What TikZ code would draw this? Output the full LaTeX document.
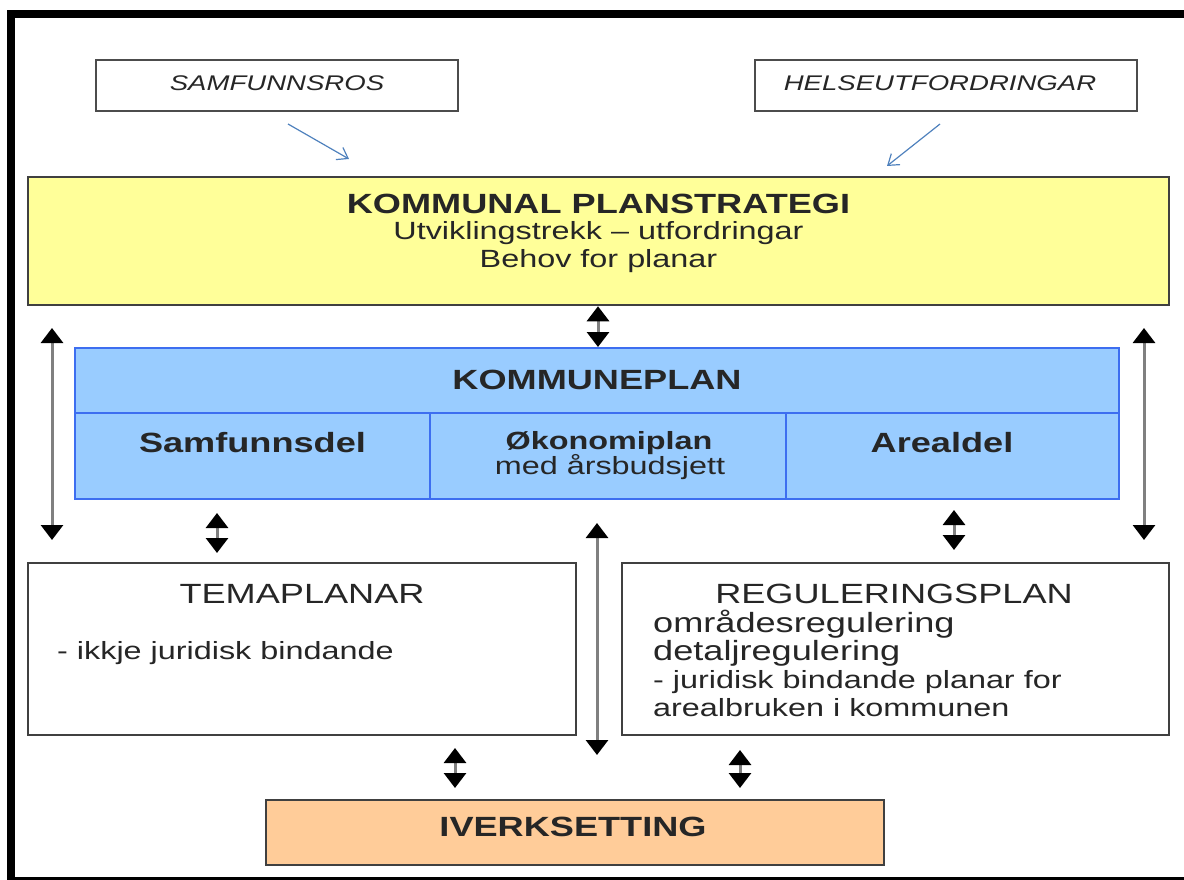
\documentclass[tikz,border=0pt]{standalone}
\usepackage{fontspec}
\setmainfont{Liberation Sans}[FakeStretch=1.3]
\usetikzlibrary{arrows.meta}

\definecolor{planyellow}{HTML}{FFFF99}
\definecolor{planblue}{HTML}{99CCFF}
\definecolor{planblueline}{HTML}{3D6EF0}
\definecolor{planorange}{HTML}{FFCC99}
\definecolor{hintblue}{HTML}{4F81BD}

\newcommand{\bigtxt}{\fontsize{27.8}{32}\selectfont}
\newcommand{\smalltxt}{\fontsize{24.9}{29}\selectfont}
\newcommand{\toptxt}{\fontsize{21.2}{25}\selectfont\itshape}

\begin{document}
\begin{tikzpicture}[x=1pt,y=-1pt,
  box/.style={draw=black!75,line width=2.5pt,inner sep=0pt},
  topbox/.style={draw=black!70,line width=2pt,inner sep=0pt},
  cell/.style={draw=planblueline,line width=2pt,fill=planblue,inner sep=0pt},
  twoway/.style={draw=gray,line width=3pt,{Triangle[length=15pt,width=22pt,color=black]}-{Triangle[length=15pt,width=22pt,color=black]}},
  hint/.style={draw=hintblue,line width=1.2pt,-{Straight Barb[length=10pt,width=14pt]}},
  txt/.style={anchor=base,inner sep=0pt,text=black!85}]

\useasboundingbox (0,0) rectangle (1184,880);
\fill (7,10) rectangle (1184,18);
\fill (7,10) rectangle (15,880);
\fill (7,877) rectangle (1184,880);

\node[topbox,minimum width=362pt,minimum height=51pt] (ros) at (277,85.5) {};
\node[txt] (rostxt) at (277,91) {\toptxt SAMFUNNSROS};
\node[topbox,minimum width=382pt,minimum height=51pt] (helse) at (946,85.5) {};
\node[txt] (helsetxt) at (940,91) {\toptxt HELSEUTFORDRINGAR};

\node[box,fill=planyellow,minimum width=1141pt,minimum height=128pt] (strategi) at (598.5,241) {};
\node[txt] (strategi1) at (598.5,213) {\bigtxt\bfseries KOMMUNAL PLANSTRATEGI};
\node[txt] (strategi2) at (598.5,239) {\smalltxt Utviklingstrekk -- utfordringar};
\node[txt] (strategi3) at (598.5,267) {\smalltxt Behov for planar};

\coordinate (rosin) at (349,159);
\coordinate (helsein) at (887,166);
\draw[hint] ([shift={(11,12)}]ros.south) -- (rosin);
\draw[hint] ([shift={(-6,12)}]helse.south) -- (helsein);

\node[cell,minimum width=1044pt,minimum height=65pt] (kommuneplan) at (597,380.5) {};
\node[cell,minimum width=355pt,minimum height=86pt] (samf) at (252.5,456) {};
\node[cell,minimum width=356pt,minimum height=86pt] (oko) at (608,456) {};
\node[cell,minimum width=333pt,minimum height=86pt] (areal) at (952.5,456) {};
\node[txt] (kommuneplantxt) at (597,389) {\bigtxt\bfseries KOMMUNEPLAN};
\node[txt] (samftxt) at (252.5,452) {\bigtxt\bfseries Samfunnsdel};
\node[txt] (okotxt1) at (609,449) {\smalltxt\bfseries Økonomiplan};
\node[txt] (okotxt2) at (610,474) {\smalltxt med årsbudsjett};
\node[txt] (arealtxt) at (942,452) {\bigtxt\bfseries Arealdel};

\node[box,fill=white,minimum width=548pt,minimum height=172pt] (tema) at (302,649) {};
\node[txt] (tematxt) at (302,603) {\bigtxt TEMAPLANAR};
\node[txt,anchor=base west] (temanote) at (57,659) {\smalltxt - ikkje juridisk bindande};

\node[box,fill=white,minimum width=547pt,minimum height=172pt] (regul) at (895.5,649) {};
\node[txt] (regultxt) at (894,603) {\bigtxt REGULERINGSPLAN};
\node[txt,anchor=base west] (regul1) at (653,632) {\bigtxt områdesregulering};
\node[txt,anchor=base west] (regul2) at (653,660) {\bigtxt detaljregulering};
\node[txt,anchor=base west] (regul3) at (653,688) {\smalltxt - juridisk bindande planar for};
\node[txt,anchor=base west] (regul4) at (653,716) {\smalltxt arealbruken i kommunen};

\node[box,fill=planorange,minimum width=618pt,minimum height=65pt] (iverk) at (575,832.5) {};
\node[txt] (iverktxt) at (573,836) {\bigtxt\bfseries IVERKSETTING};

\draw[twoway] (strategi.south -| 598,0) -- (kommuneplan.north -| 598,0);

\coordinate (lefttop) at (52,328);
\coordinate (leftbot) at (52,540);
\coordinate (righttop) at (1144,328);
\coordinate (rightbot) at (1144,540);
\coordinate (midtop) at (597,523);
\coordinate (midbot) at (597,755);
\draw[twoway] (lefttop) -- (leftbot);
\draw[twoway] (righttop) -- (rightbot);
\draw[twoway] (midtop) -- (midbot);

\coordinate (samfout) at (217,513);
\coordinate (temain) at (217,553);
\coordinate (arealout) at (954,510);
\coordinate (regulin) at (954,550);
\coordinate (temaout) at (455,748);
\coordinate (iverkin1) at (455,788);
\coordinate (regulout) at (740,750);
\coordinate (iverkin2) at (740,788);
\draw[twoway] (samfout) -- (temain);
\draw[twoway] (arealout) -- (regulin);
\draw[twoway] (temaout) -- (iverkin1);
\draw[twoway] (regulout) -- (iverkin2);

\end{tikzpicture}
\end{document}
